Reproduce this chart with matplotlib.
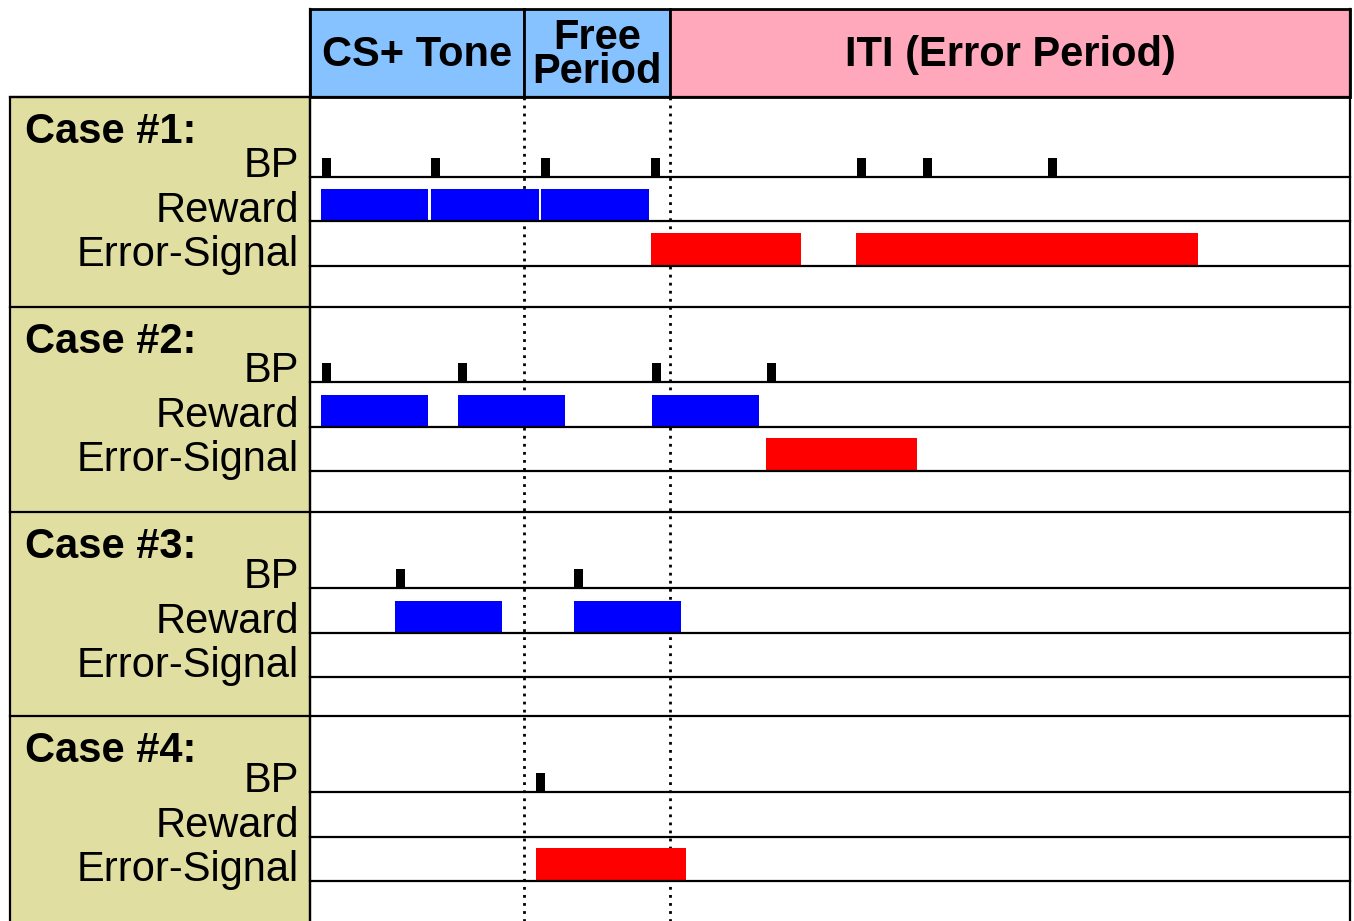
import matplotlib
matplotlib.use("Agg")
import matplotlib.pyplot as plt
from matplotlib.patches import Rectangle

plt.rcParams['font.family'] = ['Liberation Sans', 'DejaVu Sans']

# ---------------- data (time units; 1 unit = 10 px in the reference) -------------
phase_names = ["CS+ Tone", "Free\nPeriod", "ITI (Error Period)"]
phase_bounds = [0.0, 21.4, 36.0, 104.0]
case_labels = ["Case #1:", "Case #2:", "Case #3:", "Case #4:"]
row_labels = ["BP", "Reward", "Error-Signal"]

# bar press times (centres)
bp_case1 = [1.65, 12.55, 23.55, 34.55, 55.1, 61.7, 74.25]
bp_case2 = [1.65, 15.25, 34.65, 46.15]
bp_case3 = [9.05, 26.85]
bp_case4 = [23.05]

# reward deliveries (start, duration)
reward_case1 = [(1.05, 10.75), (12.1, 10.8), (23.1, 10.8)]
reward_case2 = [(1.1, 10.7), (14.75, 10.7), (34.15, 10.75)]
reward_case3 = [(8.45, 10.75), (26.35, 10.75)]
reward_case4 = []

# error signals (start, duration)
error_case1 = [(34.1, 15.0), (54.6, 34.2)]
error_case2 = [(45.6, 15.05)]
error_case3 = []
error_case4 = [(22.55, 15.05)]

bp_all = [bp_case1, bp_case2, bp_case3, bp_case4]
reward_all = [reward_case1, reward_case2, reward_case3, reward_case4]
error_all = [error_case1, error_case2, error_case3, error_case4]

# ---------------- layout -----------------------------------------------------------
fig = plt.figure(figsize=(13.54, 9.21), dpi=100)
ax = fig.add_axes([0, 0, 1, 1])
ax.set_xlim(-31, 104.4)
ax.set_ylim(921, 0)
ax.axis('off')

header_top, header_bot = 9, 97
panel_left = -30.0
case_tops = [97, 307, 512, 716]
bp_base = [177, 382, 588, 792]
row_gap = 44.5
bp_h, rew_h, err_h = 19, 32, 33
bp_w = 0.9

tone_blue = '#86C2FF'
iti_pink = '#FFA8BC'
khaki = '#E0DEA0'
LW = 1.6

# header boxes
header_colors = [tone_blue, tone_blue, iti_pink]
for i in range(3):
    ax.add_patch(Rectangle((phase_bounds[i], header_top),
                           phase_bounds[i + 1] - phase_bounds[i],
                           header_bot - header_top,
                           facecolor=header_colors[i], edgecolor='black',
                           linewidth=2.0, zorder=2))

# header text
ax.text((phase_bounds[0] + phase_bounds[1]) / 2, 66, phase_names[0],
        ha='center', va='baseline', fontsize=30, fontweight='bold', zorder=5)
ax.text((phase_bounds[1] + phase_bounds[2]) / 2, 55, phase_names[1],
        ha='center', va='center', fontsize=30, fontweight='bold',
        linespacing=0.78, multialignment='center', zorder=5)
ax.text((phase_bounds[2] + phase_bounds[3]) / 2, 66, phase_names[2],
        ha='center', va='baseline', fontsize=30, fontweight='bold', zorder=5)

# left khaki panel
ax.add_patch(Rectangle((panel_left, header_bot), 0 - panel_left, 921 - header_bot + 5,
                       facecolor=khaki, edgecolor='black', linewidth=LW, zorder=1))

# outer vertical lines of timeline
ax.plot([0, 0], [header_top, 921], color='black', lw=LW, zorder=4)
ax.plot([phase_bounds[-1]] * 2, [header_top, 921], color='black', lw=LW, zorder=4)

# dotted phase boundaries
for xb in phase_bounds[1:3]:
    ax.plot([xb, xb], [header_bot, 921], color='black', lw=2.0,
            linestyle=(0, (1, 1.9)), zorder=2.5)

for c in range(4):
    top = case_tops[c]
    # case separator
    ax.plot([panel_left, phase_bounds[-1]], [top, top], color='black', lw=LW, zorder=4)
    ys = [bp_base[c] + k * row_gap for k in range(3)]
    for y in ys:
        ax.plot([0, phase_bounds[-1]], [y, y], color='black', lw=LW, zorder=4)
    # labels
    ax.text(-28.5, top + 46, case_labels[c], ha='left', va='baseline',
            fontsize=30, fontweight='bold', zorder=5)
    for k, lab in enumerate(row_labels):
        ax.text(-1.1, ys[k], lab, ha='right', va='baseline', fontsize=30, zorder=5)
    # BP ticks
    for t in bp_all[c]:
        ax.add_patch(Rectangle((t - bp_w / 2, ys[0] - bp_h), bp_w, bp_h,
                               facecolor='black', edgecolor='none', zorder=3))
    # rewards
    for s, d in reward_all[c]:
        ax.add_patch(Rectangle((s, ys[1] - rew_h), d, rew_h,
                               facecolor='#0000FF', edgecolor='none', zorder=3))
    # errors
    for s, d in error_all[c]:
        ax.add_patch(Rectangle((s, ys[2] - err_h), d, err_h,
                               facecolor='#FF0000', edgecolor='none', zorder=3))

fig.savefig('out.png', dpi=100)
